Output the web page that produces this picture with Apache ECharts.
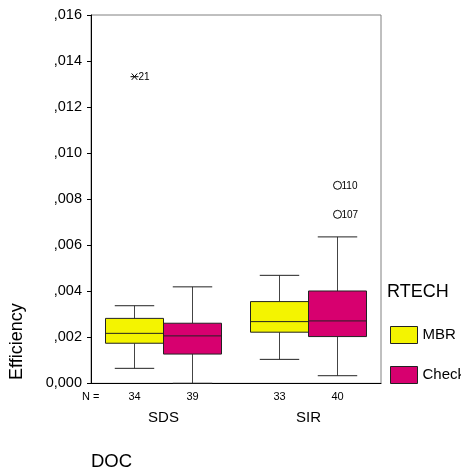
<!DOCTYPE html>
<html><head><meta charset="utf-8">
<script src="https://cdn.jsdelivr.net/npm/echarts@6/dist/echarts.min.js"></script>
<style>html,body{margin:0;padding:0;background:#fff}#c{width:461px;height:471px}</style>
</head><body><div id="c"></div>
<script>
const categories = ['SDS', 'SIR'];
const groupNames = ['MBR', 'Check'];
const groupColors = ['#f4f400', '#d7006f'];
// per category: [min, Q1, median, Q3, max]
const mbrStats = [[0.00065, 0.00174, 0.00217, 0.00282, 0.00337], [0.00104, 0.00222, 0.00268, 0.00355, 0.00469]];
const checkStats = [[0.00000, 0.00127, 0.00206, 0.00261, 0.00419], [0.00033, 0.00203, 0.00271, 0.00401, 0.00636]];
const mbrN = [34, 33];
const checkN = [39, 40];
// [categoryIndex, groupIndex, value, case label, kind]
const outlierPoints = [
  [0, 0, 0.01332, '21', 'extreme'],
  [1, 1, 0.00860, '110', 'outlier'],
  [1, 1, 0.00734, '107', 'outlier']
];
const yTickLabels = ['0,000', ',002', ',004', ',006', ',008', ',010', ',012', ',014', ',016'];
const yStep = 0.002;

const FONT = 'Liberation Sans, Arial, Helvetica, sans-serif';
const chart = echarts.init(document.getElementById('c'), null, { renderer: 'canvas' });

function boxCenter(api, cat, g) {
  const band = api.size([1, 0])[0];
  const w = band * 0.4;
  const cx = api.coord([cat, 0])[0] + (g === 0 ? -w / 2 : w / 2);
  return { cx: cx, w: w };
}

function makeBoxRender(g, color) {
  return function (params, api) {
    const cat = api.value(0);
    const b = boxCenter(api, cat, g);
    const cx = b.cx, w = b.w;
    const y = function (i) { return api.coord([cat, api.value(i)])[1]; };
    const yMin = y(1), yQ1 = y(2), yMed = y(3), yQ3 = y(4), yMax = y(5);
    const yBase = api.coord([cat, 0])[1];
    const cap = w * 0.68;
    const ls = { stroke: '#222', lineWidth: 1 };
    return {
      type: 'group',
      children: [
        { type: 'line', shape: { x1: cx, y1: yQ3, x2: cx, y2: yMax }, style: { stroke: '#444', lineWidth: 1 } },
        { type: 'line', shape: { x1: cx, y1: yQ1, x2: cx, y2: yMin }, style: { stroke: '#444', lineWidth: 1 } },
        { type: 'line', shape: { x1: cx - cap / 2, y1: yMax, x2: cx + cap / 2, y2: yMax }, style: ls },
        { type: 'line', shape: { x1: cx - cap / 2, y1: yMin, x2: cx + cap / 2, y2: yMin }, style: ls },
        { type: 'rect', shape: { x: cx - w / 2, y: yQ3, width: w, height: yQ1 - yQ3 }, style: { fill: color, stroke: '#222', lineWidth: 1 } },
        { type: 'line', shape: { x1: cx - w / 2, y1: yMed, x2: cx + w / 2, y2: yMed }, style: ls },
        { type: 'text', style: { x: cx, y: yBase + 13.5, text: String(api.value(6)), fill: '#000', font: '11px ' + FONT, align: 'center', verticalAlign: 'middle' } }
      ]
    };
  };
}

function outlierRender(params, api) {
  const cat = api.value(0);
  const g = api.value(1);
  const b = boxCenter(api, cat, g);
  const cx = b.cx;
  const cy = api.coord([cat, api.value(2)])[1];
  const item = outlierPoints[params.dataIndex];
  const children = [];
  if (item[4] === 'extreme') {
    const s = 4;
    const st = { stroke: '#000', lineWidth: 1 };
    children.push({ type: 'line', shape: { x1: cx - s, y1: cy, x2: cx + s, y2: cy }, style: st });
    children.push({ type: 'line', shape: { x1: cx - s * 0.7, y1: cy - s * 0.8, x2: cx + s * 0.7, y2: cy + s * 0.8 }, style: st });
    children.push({ type: 'line', shape: { x1: cx - s * 0.7, y1: cy + s * 0.8, x2: cx + s * 0.7, y2: cy - s * 0.8 }, style: st });
  } else {
    children.push({ type: 'circle', shape: { cx: cx, cy: cy, r: 4 }, style: { fill: '#fff', stroke: '#000', lineWidth: 1 } });
  }
  children.push({ type: 'text', style: { x: cx + 4, y: cy + 0.5, text: item[3], fill: '#000', font: '10px ' + FONT, align: 'left', verticalAlign: 'middle' } });
  return { type: 'group', children: children };
}

const mbrData = categories.map(function (c, i) { return [i].concat(mbrStats[i]).concat([mbrN[i]]); });
const checkData = categories.map(function (c, i) { return [i].concat(checkStats[i]).concat([checkN[i]]); });
const outData = outlierPoints.map(function (p) { return [p[0], p[1], p[2]]; });

chart.setOption({
  animation: false,
  backgroundColor: '#fff',
  textStyle: { fontFamily: FONT },
  grid: { left: 91, top: 15, right: 80, bottom: 87.7, show: true, borderColor: '#808080', borderWidth: 1 },
  legend: {
    data: groupNames,
    orient: 'vertical',
    left: 390, top: 326,
    padding: 0,
    icon: 'rect',
    itemWidth: 27, itemHeight: 17, itemGap: 22,
    itemStyle: { borderColor: '#222', borderWidth: 1 },
    textStyle: { fontSize: 15, color: '#000', fontFamily: FONT }
  },
  xAxis: {
    type: 'category',
    data: categories,
    axisLine: { lineStyle: { color: '#000', width: 1 } },
    axisTick: { alignWithLabel: true, length: 4, lineStyle: { color: '#000' } },
    axisLabel: { fontSize: 15, color: '#000', margin: 27, fontFamily: FONT },
    splitLine: { show: false }
  },
  yAxis: {
    type: 'value',
    min: 0, max: 0.016, interval: yStep,
    axisLine: { show: true, lineStyle: { color: '#000', width: 1 } },
    axisTick: { show: true, length: 4, lineStyle: { color: '#000' } },
    axisLabel: {
      fontSize: 14.5, color: '#000', margin: 9, fontFamily: FONT,
      formatter: function (v) { return yTickLabels[Math.round(v / yStep)]; }
    },
    splitLine: { show: false }
  },
  graphic: [
    { type: 'text', style: { x: 387, y: 292, text: 'RTECH', font: '18px ' + FONT, fill: '#000', verticalAlign: 'middle' } },
    { type: 'text', x: 17.5, y: 341.6, rotation: Math.PI / 2, style: { x: 0, y: 0, text: 'Efficiency', font: '18px ' + FONT, fill: '#000', align: 'center', verticalAlign: 'middle' } },
    { type: 'text', style: { x: 91, y: 462, text: 'DOC', font: '18.5px ' + FONT, fill: '#000', verticalAlign: 'middle' } },
    { type: 'text', style: { x: 82, y: 397, text: 'N =', font: '11px ' + FONT, fill: '#000', verticalAlign: 'middle' } }
  ],
  series: [
    { name: groupNames[0], type: 'custom', renderItem: makeBoxRender(0, groupColors[0]), itemStyle: { color: groupColors[0] }, encode: { x: 0, y: [1, 2, 3, 4, 5] }, data: mbrData, clip: false },
    { name: groupNames[1], type: 'custom', renderItem: makeBoxRender(1, groupColors[1]), itemStyle: { color: groupColors[1] }, encode: { x: 0, y: [1, 2, 3, 4, 5] }, data: checkData, clip: false },
    { name: 'outliers', type: 'custom', renderItem: outlierRender, encode: { x: 0, y: 2 }, data: outData, clip: false }
  ]
});
</script>
</body></html>
